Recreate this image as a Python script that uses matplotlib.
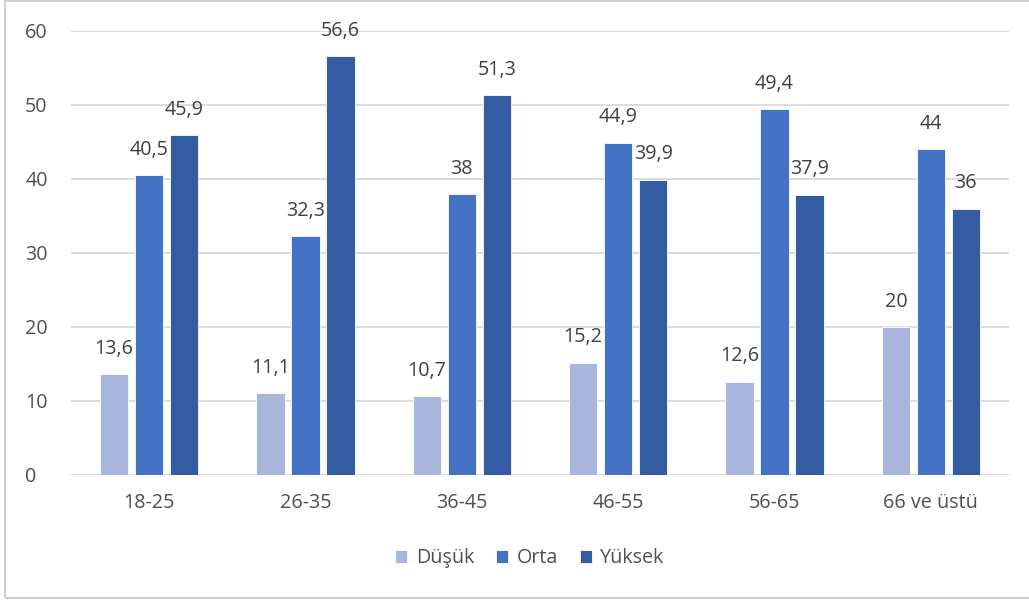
import numpy as np
import matplotlib.pyplot as plt
from matplotlib.patches import Rectangle

# Yaş grupları ve seviyeler
kategoriler = ["18-25", "26-35", "36-45", "46-55", "56-65", "66 ve üstü"]
dusuk = [13.6, 11.1, 10.7, 15.2, 12.6, 20]
orta = [40.5, 32.3, 38, 44.9, 49.4, 44]
yuksek = [45.9, 56.6, 51.3, 39.9, 37.9, 36]
seri_adlari = ["Düşük", "Orta", "Yüksek"]
renkler = ["#A9B6DB", "#4472C4", "#335CA3"]

plt.rcParams['font.family'] = ['Open Sans', 'DejaVu Sans']
gri = "#505050"
yazi = 14.2

fig = plt.figure(figsize=(10.29, 6.03), dpi=100)
ax = fig.add_axes([0.069, 0.2123, 0.9116, 0.7363])

x = np.arange(len(kategoriler))
genislik = 0.18
adim = 0.224

for i, (veri, ad, renk) in enumerate(zip([dusuk, orta, yuksek], seri_adlari, renkler)):
    konum = x + (i - 1) * adim
    ax.bar(konum, veri, genislik, color=renk, label=ad, edgecolor="white", linewidth=0.6, zorder=3)
    for xp, v in zip(konum, veri):
        etiket = f"{v:g}".replace(".", ",")
        ax.annotate(etiket, (xp, v), xytext=(0, 11), textcoords="offset points",
                    ha="center", va="bottom", fontsize=yazi, color="#404040")

ax.set_xlim(-0.5, len(kategoriler) - 0.5)
ax.set_ylim(0, 60)
ax.set_yticks(range(0, 61, 10))
ax.set_xticks(x)
ax.set_xticklabels(kategoriler)
ax.yaxis.grid(True, color="#D9D9D9", linewidth=1.3, zorder=0)
for s in ax.spines.values():
    s.set_visible(False)
ax.tick_params(axis="both", length=0, labelsize=yazi, colors=gri)
ax.tick_params(axis="x", pad=13)
ax.tick_params(axis="y", pad=33)
for lbl in ax.get_yticklabels():
    lbl.set_horizontalalignment("left")
ax.axhline(0, color="#D9D9D9", linewidth=1.3, zorder=2)

leg = fig.legend(loc="center", bbox_to_anchor=(0.515, 0.074), ncol=3, frameon=False,
                 fontsize=yazi, handlelength=0.6, handleheight=0.6, handletextpad=0.45,
                 columnspacing=1.1)
for t in leg.get_texts():
    t.set_color(gri)

# Çerçeve
fig.patches.append(Rectangle((0.005, 0.008), 1.2, 0.99, transform=fig.transFigure,
                             fill=False, edgecolor="#D0D0D0", linewidth=1.5))

fig.savefig("out.png", dpi=100)
